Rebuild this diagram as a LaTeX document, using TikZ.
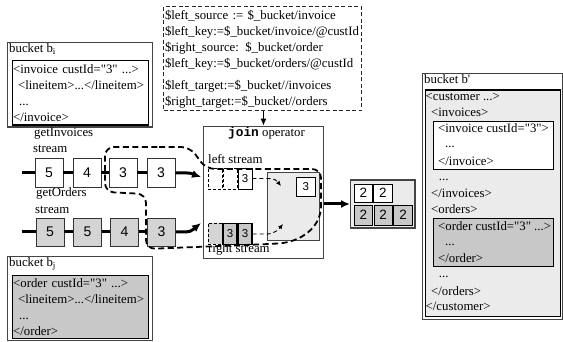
\documentclass[tikz,border=0pt]{standalone}
\usepackage{fontspec}
\setmainfont{Liberation Serif}
% a plain copy of the serif face, so that " stays a straight quote
\newfontfamily\plainserif{Liberation Serif}
\newfontfamily\digitfont{Liberation Sans}
\newfontfamily\codefont{Liberation Mono}
\usetikzlibrary{arrows.meta}

\definecolor{palegray}{HTML}{EBEBEB}
\definecolor{fillgray}{HTML}{C8C8C8}
\definecolor{tokengray}{HTML}{D4D4D4}
\definecolor{framegray}{HTML}{444444}

\tikzset{
  lbl/.style={font=\plainserif\fontsize{12.8}{16}\selectfont, inner sep=0pt, anchor=base west},
  codeblock/.style={font=\plainserif\fontsize{12.8}{16}\selectfont, align=left, inner xsep=1pt, inner ysep=0pt},
  outerbucket/.style={draw=framegray, line width=1.2pt, fill=white, anchor=north west, inner sep=0pt},
  docbox/.style={draw=black, line width=1.3pt, anchor=north west, inner sep=0pt},
  token/.style={draw=black!80, line width=0.8pt, minimum width=28pt, inner sep=0pt,
    font=\digitfont\fontsize{14}{14}\selectfont},
  slot/.style={minimum width=14pt, minimum height=21pt, inner sep=0pt,
    font=\digitfont\fontsize{11.5}{11.5}\selectfont},
  emptyslot/.style={draw=black, dashed, dash pattern=on 3pt off 2pt, line width=0.7pt},
  fullslot/.style={draw=black, line width=0.9pt},
  cell/.style={draw=black, line width=0.9pt, minimum width=18.5pt, inner sep=0pt,
    font=\digitfont\fontsize{13.5}{13.5}\selectfont},
  streamline/.style={line width=3pt, draw=black},
  streamtip/.style={-{Latex[length=9pt,width=8pt]}},
  thinarrow/.style={line width=1pt, -{Latex[length=7pt,width=6pt]}},
  hintarrow/.style={line width=0.9pt, dashed, dash pattern=on 4pt off 3pt, -{Latex[length=5pt,width=4.5pt]}},
  looppath/.style={line width=1.8pt, dash pattern=on 6pt off 3.5pt}
}

\begin{document}
\begin{tikzpicture}[x=1pt,y=-1pt]
\useasboundingbox (0,0) rectangle (563,342);

% join parameters
\node[draw=black!85, line width=1pt, dash pattern=on 4pt off 2.5pt, anchor=north west,
      minimum width=198pt, minimum height=104pt, text width=195pt, inner xsep=1.5pt, inner ysep=0pt,
      align=left, font=\plainserif\fontsize{12.8}{16}\selectfont] (params) at (163,6.5)
  {\$left\_source := \$\_bucket/invoice\\
   \$left\_key:=\$\_bucket/invoice/@custId\\
   \$right\_source: \$\_bucket/order\\
   \$left\_key:=\$\_bucket/orders/@custId\\[6.5pt]
   \$left\_target:=\$\_bucket//invoices\\
   \$right\_target:=\$\_bucket//orders};

% input bucket of invoices
\node[outerbucket, minimum width=144.5pt, minimum height=84.5pt] (bi) at (7,42) {};
\node[lbl] (bilbl) at (9,53) {bucket b\textsubscript{i}};
\node[docbox, fill=white, minimum width=136.5pt, minimum height=64.5pt, codeblock, text width=134.5pt] (biDoc) at (11.5,60)
  {<invoice custId="3" ...>\\
   \hspace*{5pt}<lineitem>...</lineitem>\\
   \hspace*{6pt}...\\
   </invoice>};

% input bucket of orders
\node[outerbucket, minimum width=144.5pt, minimum height=84pt] (bj) at (7,256) {};
\node[lbl] (bjlbl) at (9,267) {bucket b\textsubscript{j}};
\node[docbox, fill=fillgray, minimum width=136.5pt, minimum height=63pt, codeblock, text width=134.5pt] (bjDoc) at (11.5,275)
  {<order custId="3" ...>\\
   \hspace*{5pt}<lineitem>...</lineitem>\\
   \hspace*{6pt}...\\
   </order>};

% stream labels
\node[lbl] (invname) at (34,136.5) {getInvoices};
\node[lbl] (invstream) at (33,153) {stream};
\node[lbl] (ordname) at (36,197) {getOrders};
\node[lbl] (ordstream) at (35,213.5) {stream};

% invoice stream
\node[token, fill=white, minimum height=29pt] (t1) at (49,173) {5};
\node[token, fill=white, minimum height=29pt] (t2) at (87,173) {4};
\node[token, fill=white, minimum height=29pt] (t3) at (123,173) {3};
\node[token, fill=white, minimum height=29pt] (t4) at (161,173) {3};
\coordinate (tin) at (22,173);
\coordinate (tend) at (201,177);
\draw[streamline] (tin) -- (t1.west) (t1.east) -- (t2.west) (t2.east) -- (t3.west) (t3.east) -- (t4.west);
\draw[streamline, streamtip] (t4.east) -- ++(12,0) .. controls +(5,0) and +(-6,-2) .. (tend);

% order stream
\node[token, fill=tokengray, minimum height=28pt] (b1) at (50,232) {5};
\node[token, fill=tokengray, minimum height=28pt] (b2) at (87.5,232) {5};
\node[token, fill=tokengray, minimum height=28pt] (b3) at (124.5,232) {4};
\node[token, fill=tokengray, minimum height=28pt] (b4) at (161.5,232) {3};
\coordinate (bin) at (22,232);
\coordinate (bend) at (201,223);
\draw[streamline] (bin) -- (b1.west) (b1.east) -- (b2.west) (b2.east) -- (b3.west) (b3.east) -- (b4.west);
\draw[streamline, streamtip] (b4.east) -- ++(10,0) .. controls +(6,0) and +(-5,4) .. (bend);

% join operator
\node[draw=framegray, line width=0.9pt, fill=white, anchor=north west, minimum width=120pt,
      minimum height=132.4pt, inner sep=0pt] (join) at (203,125.6) {};
\draw[thinarrow] (params.south -| join.north) -- (join.north);
\node[lbl] (jointitle) at (228,136.5) {{\codefont\bfseries join} operator};
\node[lbl] (lstream) at (208,163.5) {left stream};
\node[lbl] (rstream) at (208,252.5) {right stream};

\node[slot, emptyslot] (l1) at (215,178.5) {};
\node[slot, emptyslot] (l2) at (230,178.5) {};
\node[slot, fullslot, fill=white] (l3) at (245,178.5) {3};
\node[slot, emptyslot, fill=tokengray] (r1) at (215,234) {};
\node[slot, fullslot, fill=fillgray, line width=1.1pt] (r2) at (230,234) {3};
\node[slot, fullslot, fill=fillgray, line width=1.1pt] (r3) at (245,234) {3};

\node[draw=framegray, line width=0.8pt, fill=palegray, minimum width=52pt, minimum height=67.3pt,
      inner sep=0pt] (match) at (293,206.4) {};
\node[draw=black, line width=0.8pt, fill=white, minimum width=18.3pt, minimum height=19.7pt, inner sep=0pt,
      font=\digitfont\fontsize{11.5}{11.5}\selectfont] (m3) at (305.8,187) {3};

\coordinate (ltip) at (281,186);
\coordinate (rtip) at (283,224);
\draw[hintarrow] (l3.east) -- ++(15,0) .. controls +(8,0) and +(-4,-5) .. (ltip);
\draw[hintarrow] (r3.east) -- ++(14,0) .. controls +(8,0) and +(-4,5) .. (rtip);

% joined pairs
\node[draw=framegray, line width=1.2pt, fill=palegray, minimum width=64.3pt, minimum height=48pt,
      inner sep=0pt] (res) at (382.8,204) {};
\node[cell, fill=white, minimum height=18pt] (o1) at (363.3,193) {2};
\node[cell, fill=white, minimum height=18pt] (o2) at (383,193) {2};
\node[cell, fill=fillgray, minimum height=20pt] (p1) at (363.3,215) {2};
\node[cell, fill=fillgray, minimum height=20pt] (p2) at (383.2,215) {2};
\node[cell, fill=fillgray, minimum height=20pt] (p3) at (403.1,215) {2};
\draw[streamline, streamtip] (res.west -| join.east) -- (res.west);

% output bucket
\node[outerbucket, minimum width=140pt, minimum height=245.5pt] (bout) at (421.5,73) {};
\node[lbl] (boutlbl) at (424,84) {bucket b\textquotesingle};
\node[docbox, fill=palegray, minimum width=134.5pt, minimum height=226.5pt] (cust) at (425,89.5) {};
\node[docbox, fill=white, minimum width=120.4pt, minimum height=48pt] (inv) at (432.6,121) {};
\node[docbox, fill=fillgray, minimum width=120.4pt, minimum height=48pt] (ord) at (432.6,218) {};
\node[lbl] (c1) at (425.5,100.5) {<customer ...>};
\node[lbl] (c2) at (431,116.5) {<invoices>};
\node[lbl] (c3) at (438,132.5) {<invoice custId="3">};
\node[lbl] (c4) at (445,148) {...};
\node[lbl] (c5) at (438,165.5) {</invoice>};
\node[lbl] (c6) at (438.7,181) {...};
\node[lbl] (c7) at (431,197.5) {</invoices>};
\node[lbl] (c8) at (431,213.5) {<orders>};
\node[lbl] (c9) at (438,230.5) {<order custId="3" ...>};
\node[lbl] (c10) at (445,246) {...};
\node[lbl] (c11) at (438,262.5) {</order>};
\node[lbl] (c12) at (438.7,278) {...};
\node[lbl] (c13) at (431,295) {</orders>};
\node[lbl] (c14) at (425.5,310.5) {</customer>};

% tokens with the same key travelling together
\draw[looppath, rounded corners=9pt] (150,147) -- (190,147) -- (206,169) -- (321,169) -- (321,197)
  .. controls (321,228) and (300,242) .. (270,244) -- (146,249) -- (146,194) -- (105,192) -- (105,147) -- cycle;
\end{tikzpicture}
\end{document}
